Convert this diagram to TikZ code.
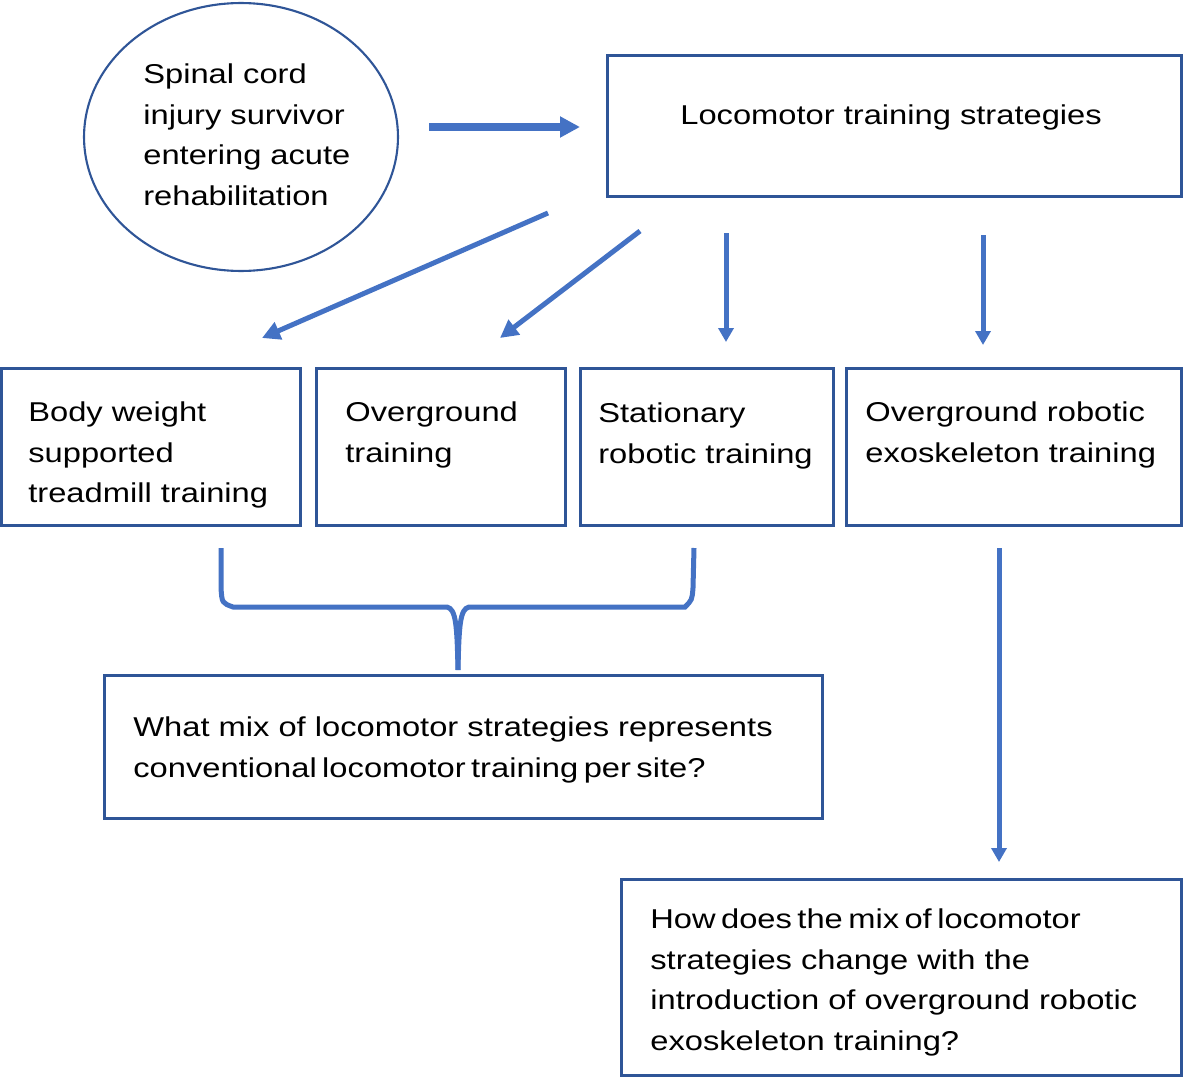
\documentclass[tikz,border=0pt]{standalone}
\usepackage{fontspec}
\setmainfont{Liberation Sans}[FakeStretch=1.2]
\usetikzlibrary{arrows.meta,shapes.geometric,positioning}
\definecolor{arrowblue}{RGB}{68,114,196}
\definecolor{edgeblue}{RGB}{47,85,151}
\tikzset{
  box/.style={draw=edgeblue, line width=1.7pt, inner sep=0pt},
  oval/.style={ellipse, draw=edgeblue, line width=1.2pt, inner sep=0pt},
  txt/.style={align=left, inner sep=0pt, anchor=north west,
    font=\fontsize{15.5}{23.3}\selectfont},
  arrbig/.style={arrowblue, line width=0.16cm, -{Triangle[length=0.4cm, width=0.4cm]}},
  arrmid/.style={arrowblue, line width=0.1cm, -{Triangle[length=0.36cm, width=0.36cm]}},
  arrsmall/.style={arrowblue, line width=0.1cm, -{Triangle[length=0.28cm, width=0.3cm]}},
  brace/.style={arrowblue, line width=0.1cm}
}
\newcommand{\tightsp}[1]{{\spaceskip=0.2em\relax #1}}

\begin{document}
\begin{tikzpicture}[x=0.02cm, y=-0.02cm]
    \useasboundingbox (0,0) rectangle (1184,1078);

    % shapes
    \node[oval, minimum width=6.28cm, minimum height=5.36cm] (sci) at (241,137) {};
    \node[box, minimum width=11.5cm, minimum height=2.84cm] (strat) at (894.5,126) {};
    \node[box, minimum width=6cm, minimum height=3.16cm] (bwst) at (151,447) {};
    \node[box, minimum width=5cm, minimum height=3.16cm] (over) at (441,447) {};
    \node[box, minimum width=5.08cm, minimum height=3.16cm] (stat) at (707,447) {};
    \node[box, minimum width=6.72cm, minimum height=3.16cm] (exo) at (1014,447) {};
    \node[box, minimum width=14.38cm, minimum height=2.88cm] (mix) at (463.5,747) {};
    \node[box, minimum width=11.22cm, minimum height=3.94cm] (change) at (901.5,977.5) {};

    % texts
    \node[txt] (scitext) at (143,63) {Spinal cord\\injury survivor\\entering acute\\rehabilitation};
    \node[txt] (strattext) at (680,104) {Locomotor training strategies};
    \node[txt] (bwsttext) at (28,401) {Body weight\\supported\\treadmill training};
    \node[txt] (overtext) at (345,401) {Overground\\training};
    \node[txt] (stattext) at (598,402) {Stationary\\robotic training};
    \node[txt] (exotext) at (865,401) {Overground robotic\\exoskeleton training};
    \node[txt] (mixtext) at (133,716) {What mix of locomotor strategies represents\\
      \tightsp{conventional locomotor training per site?}};
    \node[txt] (changetext) at (650,908) {\tightsp{How does the mix of locomotor}\\
      strategies change with the\\introduction of overground robotic\\exoskeleton training?};

    % arrow ends
    \coordinate (h0) at (429,127);
    \coordinate (h1) at (580,127);
    \coordinate (d0) at (548,213);
    \coordinate (d1) at (262,338);
    \coordinate (e0) at (640,231);
    \coordinate (e1) at (500,338);
    \coordinate (v0) at (726,233);
    \coordinate (v1) at (726,342);
    \coordinate (w0) at (983,235);
    \coordinate (w1) at (983,345);
    \coordinate (x0) at (999,548);
    \coordinate (x1) at (999,862);

    \draw[arrbig] (h0) -- (h1);
    \draw[arrmid] (d0) -- (d1);
    \draw[arrmid] (e0) -- (e1);
    \draw[arrsmall] (v0) -- (v1);
    \draw[arrsmall] (w0) -- (w1);
    \draw[arrsmall] (x0) -- (x1);

    % brace
    \draw[brace] (221,548) -- (221,588) .. controls (222,603) .. (233,607)
        -- (447,607) .. controls (456,609) and (457,625) .. (458,670);
    \draw[brace] (694,548) -- (693,588) .. controls (692,600) .. (685,607)
        -- (469,607) .. controls (460,609) and (459,625) .. (458,670);

\end{tikzpicture}
\end{document}
